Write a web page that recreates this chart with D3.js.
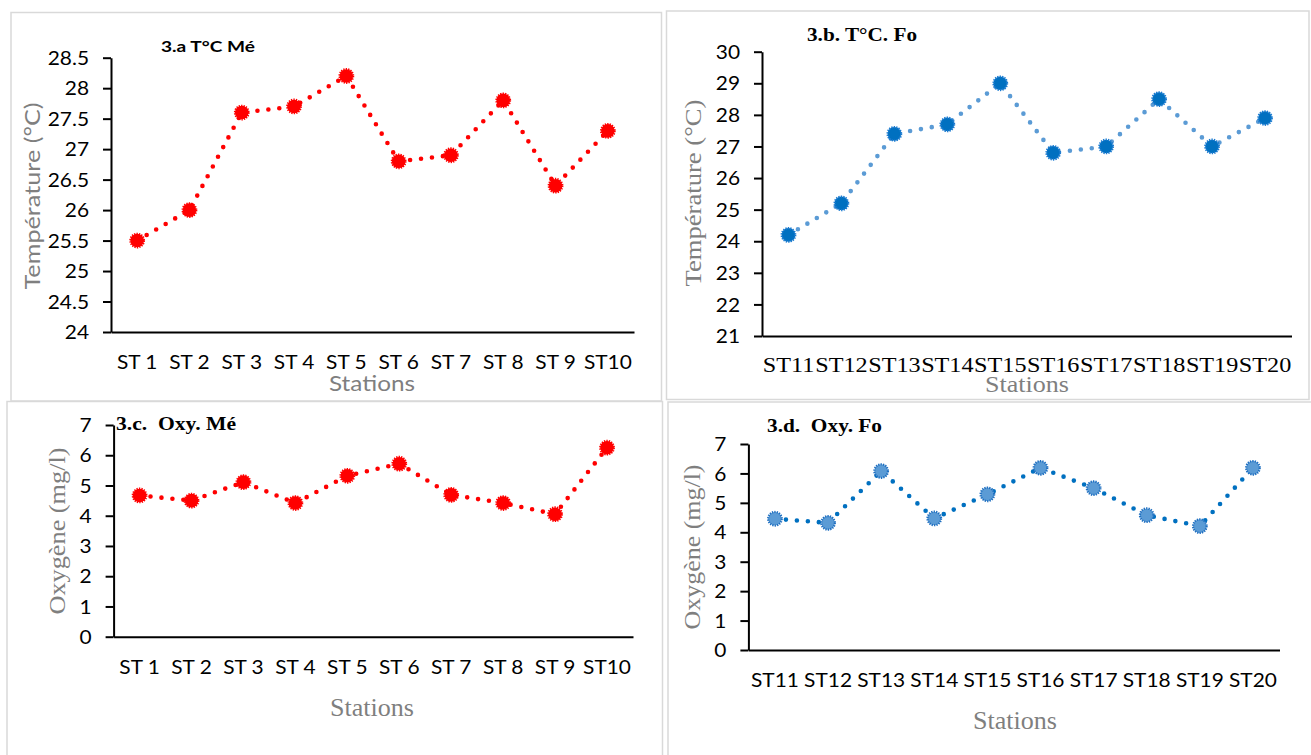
<!DOCTYPE html>
<html>
<head>
<meta charset="utf-8">
<script src="https://cdn.jsdelivr.net/npm/d3@7"></script>
<style>
  html, body { margin: 0; padding: 0; background: #ffffff; }
  svg { display: block; }
  text { white-space: pre; }
</style>
</head>
<body>
<svg id="chart" width="1311" height="755"></svg>
<script>
// ---------------- DATA ----------------
const stationsMe = ["ST 1", "ST 2", "ST 3", "ST 4", "ST 5", "ST 6", "ST 7", "ST 8", "ST 9", "ST10"];
const stationsFo = ["ST11", "ST12", "ST13", "ST14", "ST15", "ST16", "ST17", "ST18", "ST19", "ST20"];

const tempMe = [25.5, 26.0, 27.6, 27.7, 28.2, 26.8, 26.9, 27.8, 26.4, 27.3];
const tempFo = [24.2, 25.2, 27.4, 27.7, 29.0, 26.8, 27.0, 28.5, 27.0, 27.9];
const oxyMe  = [4.67, 4.50, 5.11, 4.42, 5.32, 5.72, 4.69, 4.42, 4.05, 6.25];
const oxyFo  = [4.46, 4.32, 6.08, 4.47, 5.29, 6.19, 5.50, 4.58, 4.21, 6.19];

const tempMeTicks = [24, 24.5, 25, 25.5, 26, 26.5, 27, 27.5, 28, 28.5];
const tempFoTicks = [21, 22, 23, 24, 25, 26, 27, 28, 29, 30];
const oxyTicks    = [0, 1, 2, 3, 4, 5, 6, 7];

const titles = ["3.a T°C Mé", "3.b. T°C. Fo", "3.c.  Oxy. Mé", "3.d.  Oxy. Fo"];
const yTitles = ["Température (°C)", "Température (°C)", "Oxygène (mg/l)", "Oxygène (mg/l)"];
const xTitle = "Stations";

// ---------------- STYLE / LAYOUT ----------------
const SANS = "Lato, 'Open Sans', sans-serif";
const SERIF = "'Liberation Serif', 'Times New Roman', serif";
const GREY = "#7f7f7f";

const panels = [
  { cats: stationsMe, vals: tempMe, ticks: tempMeTicks, domain: [24, 28.5],
    title: titles[0], yTitle: yTitles[0],
    x0: 111, x1: 634, yTop: 57.7, yBot: 332,
    titleFont: SANS, titleSize: 16, titleX: 161, titleY: 46.7, titleLen: 94,
    yTitleFont: SANS, yTitleSize: 21, yTitleX: 33, yTitleY: 196, yTitleLen: 187,
    xTitleFont: SANS, xTitleSize: 21, xTitleX: 372, xTitleY: 384, xTitleLen: 86,
    xTickFont: SANS, xTickSize: 19, xTickSx: 1.1, xTickOff: 30,
    lineColor: "#ff0000", markFill: "#ff0000", markStroke: "#ff0000",
    border: [11, 12.5, 661.5, 401] },
  { cats: stationsFo, vals: tempFo, ticks: tempFoTicks, domain: [21, 30],
    title: titles[1], yTitle: yTitles[1],
    x0: 762, x1: 1291.5, yTop: 51.7, yBot: 336,
    titleFont: SERIF, titleSize: 18, titleX: 807, titleY: 34.5, titleLen: 110,
    yTitleFont: SERIF, yTitleSize: 24, yTitleX: 693, yTitleY: 193, yTitleLen: 187,
    xTitleFont: SERIF, xTitleSize: 24, xTitleX: 1027, xTitleY: 384, xTitleLen: 84,
    xTickFont: SERIF, xTickSize: 22, xTickSx: 1.1, xTickOff: 28,
    lineColor: "#5b9bd5", markFill: "#0070c0", markStroke: "#1a7ad0",
    border: [666.5, 11, 1309, 399.5] },
  { cats: stationsMe, vals: oxyMe, ticks: oxyTicks, domain: [0, 7],
    title: titles[2], yTitle: yTitles[2],
    x0: 113.6, x1: 633, yTop: 425, yBot: 636.7,
    titleFont: SERIF, titleSize: 18, titleX: 116, titleY: 424, titleLen: 120,
    yTitleFont: SERIF, yTitleSize: 24, yTitleX: 57, yTitleY: 531, yTitleLen: 167,
    xTitleFont: SERIF, xTitleSize: 25, xTitleX: 372, xTitleY: 707, xTitleLen: 84,
    xTickFont: SANS, xTickSize: 19, xTickSx: 1.1, xTickOff: 31,
    lineColor: "#ff0000", markFill: "#ff0000", markStroke: "#ff0000",
    border: [7, 401.5, 662.5, 800] },
  { cats: stationsFo, vals: oxyFo, ticks: oxyTicks, domain: [0, 7],
    title: titles[3], yTitle: yTitles[3],
    x0: 748.4, x1: 1279.5, yTop: 444, yBot: 650,
    titleFont: SERIF, titleSize: 18, titleX: 767, titleY: 426, titleLen: 115,
    yTitleFont: SERIF, yTitleSize: 24, yTitleX: 692, yTitleY: 547, yTitleLen: 165,
    xTitleFont: SERIF, xTitleSize: 25, xTitleX: 1015, xTitleY: 720, xTitleLen: 84,
    xTickFont: SANS, xTickSize: 19, xTickSx: 1.1, xTickOff: 30,
    lineColor: "#0070c0", markFill: "#5b9bd5", markStroke: "#1f6fc0",
    border: [668, 402, 1330, 800] }
];

const svg = d3.select("#chart");
svg.append("rect").attr("width", 1311).attr("height", 755).attr("fill", "#fff");

function addText(g, o) {
  const t = g.append("text")
    .attr("transform", `translate(${o.x},${o.y})` + (o.rotate ? ` rotate(${o.rotate})` : ""))
    .attr("text-anchor", o.anchor || "middle")
    .attr("dy", "0.35em")
    .attr("font-family", o.font)
    .attr("font-size", o.size)
    .attr("font-weight", o.weight || "normal")
    .attr("fill", o.fill || "#000")
    .text(o.text);
  if (o.len) t.attr("textLength", o.len).attr("lengthAdjust", "spacingAndGlyphs");
  return t;
}

panels.forEach(p => {
  const g = svg.append("g");

  // panel border
  g.append("rect")
    .attr("x", p.border[0]).attr("y", p.border[1])
    .attr("width", p.border[2] - p.border[0]).attr("height", p.border[3] - p.border[1])
    .attr("fill", "none").attr("stroke", "#d9d9d9").attr("stroke-width", 1.5);

  const x = d3.scaleBand().domain(p.cats).range([p.x0, p.x1]);
  const y = d3.scaleLinear().domain(p.domain).range([p.yBot, p.yTop]);

  // y axis
  const yAx = g.append("g").attr("transform", `translate(${p.x0},0)`)
    .call(d3.axisLeft(y).tickValues(p.ticks).tickSize(8).tickSizeOuter(0).tickPadding(14)
      .tickFormat(d => String(d)));
  yAx.select(".domain").attr("stroke", "#000").attr("stroke-width", 2);
  yAx.selectAll(".tick line").attr("stroke", "#000").attr("stroke-width", 2);
  yAx.selectAll(".tick text")
    .attr("font-family", SANS).attr("font-size", 19).attr("fill", "#000")
    .attr("x", -22 / 1.1).attr("dy", "0.35em")
    .attr("transform", "scale(1.1,1)");

  // x axis
  const xAx = g.append("g").attr("transform", `translate(0,${p.yBot})`)
    .call(d3.axisBottom(x).tickSize(0).tickSizeOuter(0));
  xAx.select(".domain").attr("stroke", "#000").attr("stroke-width", 2);
  xAx.selectAll(".tick text")
    .attr("font-family", p.xTickFont).attr("font-size", p.xTickSize).attr("fill", "#000")
    .attr("y", p.xTickOff).attr("dy", "0.35em")
    .attr("transform", `scale(${p.xTickSx},1)`);

  // dotted line
  const line = d3.line()
    .x((d, i) => x(p.cats[i]) + x.bandwidth() / 2)
    .y(d => y(d));
  g.append("path").datum(p.vals)
    .attr("d", line)
    .attr("fill", "none")
    .attr("stroke", p.lineColor)
    .attr("stroke-width", 4.6)
    .attr("stroke-linecap", "round")
    .attr("stroke-dasharray", "0 11");

  // markers
  g.selectAll("circle.mk").data(p.vals).enter().append("circle")
    .attr("class", "mk")
    .attr("cx", (d, i) => x(p.cats[i]) + x.bandwidth() / 2)
    .attr("cy", d => y(d))
    .attr("r", 6.8)
    .attr("fill", p.markFill)
    .attr("stroke", p.markStroke)
    .attr("stroke-width", 2.2)
    .attr("stroke-dasharray", "1.3 1.1");

  // titles
  addText(g, { x: p.titleX, y: p.titleY, text: p.title, font: p.titleFont, size: p.titleSize,
    weight: "bold", anchor: "start", len: p.titleLen });
  addText(g, { x: p.yTitleX, y: p.yTitleY, text: p.yTitle, font: p.yTitleFont, size: p.yTitleSize,
    fill: GREY, rotate: -90, len: p.yTitleLen });
  addText(g, { x: p.xTitleX, y: p.xTitleY, text: xTitle, font: p.xTitleFont, size: p.xTitleSize,
    fill: GREY, len: p.xTitleLen });
});
</script>
</body>
</html>
